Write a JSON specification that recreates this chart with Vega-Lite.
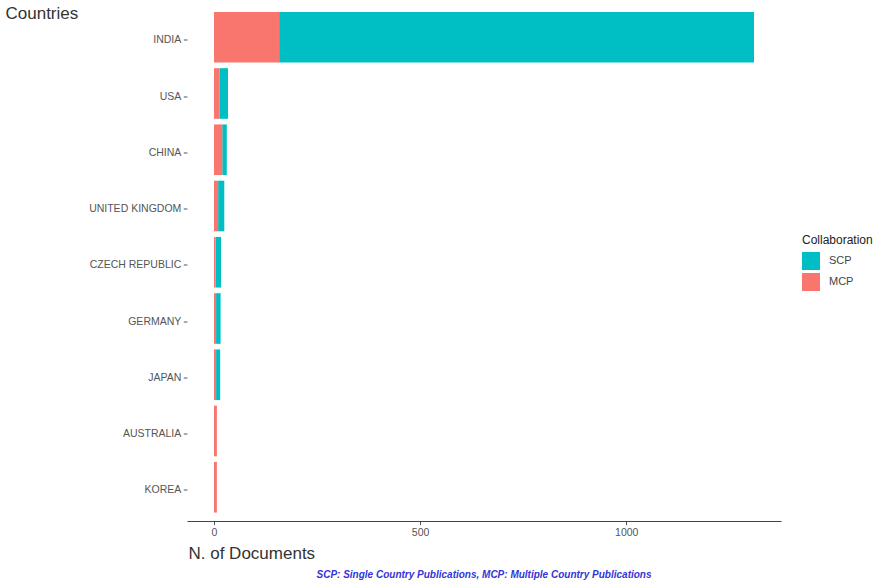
{
  "$schema": "https://vega.github.io/schema/vega-lite/v6.json",
  "autosize": {"type": "none"},
  "width": 594,
  "height": 517.5,
  "padding": {"left": 187, "top": 3.5, "right": 99, "bottom": 61},
  "background": "white",
  "title": {
    "text": "SCP: Single Country Publications, MCP: Multiple Country Publications",
    "orient": "bottom",
    "anchor": "middle",
    "frame": "group",
    "color": "#3434d8",
    "font": "Liberation Sans",
    "fontStyle": "italic",
    "fontWeight": "bold",
    "fontSize": 10,
    "offset": 8
  },
  "data": {
    "values": [
      {"Country": "INDIA", "Collaboration": "SCP", "Documents": 1152},
      {"Country": "INDIA", "Collaboration": "MCP", "Documents": 158},
      {"Country": "USA", "Collaboration": "SCP", "Documents": 20},
      {"Country": "USA", "Collaboration": "MCP", "Documents": 14},
      {"Country": "CHINA", "Collaboration": "SCP", "Documents": 11},
      {"Country": "CHINA", "Collaboration": "MCP", "Documents": 20},
      {"Country": "UNITED KINGDOM", "Collaboration": "SCP", "Documents": 15},
      {"Country": "UNITED KINGDOM", "Collaboration": "MCP", "Documents": 10},
      {"Country": "CZECH REPUBLIC", "Collaboration": "SCP", "Documents": 13},
      {"Country": "CZECH REPUBLIC", "Collaboration": "MCP", "Documents": 4},
      {"Country": "GERMANY", "Collaboration": "SCP", "Documents": 11},
      {"Country": "GERMANY", "Collaboration": "MCP", "Documents": 5},
      {"Country": "JAPAN", "Collaboration": "SCP", "Documents": 10},
      {"Country": "JAPAN", "Collaboration": "MCP", "Documents": 5},
      {"Country": "AUSTRALIA", "Collaboration": "SCP", "Documents": 0},
      {"Country": "AUSTRALIA", "Collaboration": "MCP", "Documents": 7},
      {"Country": "KOREA", "Collaboration": "SCP", "Documents": 0},
      {"Country": "KOREA", "Collaboration": "MCP", "Documents": 7}
    ]
  },
  "mark": {"type": "bar", "strokeWidth": 0},
  "encoding": {
    "y": {
      "field": "Country",
      "type": "nominal",
      "sort": ["INDIA", "USA", "CHINA", "UNITED KINGDOM", "CZECH REPUBLIC", "GERMANY", "JAPAN", "AUSTRALIA", "KOREA"],
      "scale": {"paddingInner": 0.1, "paddingOuter": 0.15},
      "axis": {
        "title": "Countries",
        "titleAngle": 0,
        "titleAlign": "left",
        "titleBaseline": "alphabetic",
        "titleX": -182,
        "titleY": 14.5,
        "titleFont": "Liberation Sans",
        "titleFontSize": 17,
        "titleFontWeight": "normal",
        "titleColor": "#333333",
        "domain": false,
        "ticks": true,
        "tickSize": 3.7,
        "tickOffset": 2.5,
        "tickColor": "#555555",
        "labelFont": "Liberation Sans",
        "labelFontSize": 10.5,
        "labelColor": "#555555",
        "labelPadding": 2.5,
        "grid": false
      }
    },
    "x": {
      "field": "Documents",
      "type": "quantitative",
      "stack": "zero",
      "scale": {"domain": [-65.5, 1375.5], "nice": false, "zero": false},
      "axis": {
        "title": "N. of Documents",
        "titleAnchor": "start",
        "titleAlign": "left",
        "titleBaseline": "alphabetic",
        "titleX": 1,
        "titleY": 37.5,
        "titleFont": "Liberation Sans",
        "titleFontSize": 17,
        "titleFontWeight": "normal",
        "titleColor": "#333333",
        "values": [0, 500, 1000],
        "format": "d",
        "domain": true,
        "domainColor": "#444444",
        "domainWidth": 1,
        "tickSize": 3.7,
        "tickColor": "#555555",
        "labelFont": "Liberation Sans",
        "labelFontSize": 10.5,
        "labelColor": "#555555",
        "labelPadding": 3,
        "grid": false
      }
    },
    "color": {
      "field": "Collaboration",
      "type": "nominal",
      "scale": {"domain": ["SCP", "MCP"], "range": ["#00BFC4", "#F8766D"]},
      "legend": {
        "title": "Collaboration",
        "orient": "none",
        "legendX": 615,
        "legendY": 231.5,
        "titleFont": "Liberation Sans",
        "titleFontSize": 12,
        "titleFontWeight": "normal",
        "titleColor": "#222222",
        "titlePadding": 5,
        "symbolType": "square",
        "symbolSize": 324,
        "symbolStrokeWidth": 0,
        "symbolOpacity": 1,
        "rowPadding": 3,
        "labelFont": "Liberation Sans",
        "labelFontSize": 11,
        "labelColor": "#444444",
        "labelOffset": 9
      }
    },
    "order": {"field": "Collaboration", "sort": "ascending"}
  },
  "config": {
    "view": {"stroke": null},
    "axis": {"labelFontWeight": "normal"}
  }
}
